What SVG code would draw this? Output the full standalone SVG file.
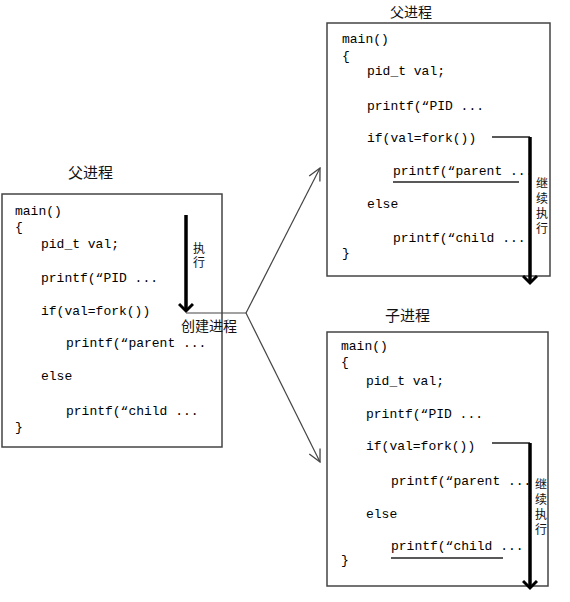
<svg xmlns="http://www.w3.org/2000/svg" width="570" height="602" viewBox="0 0 570 602">
<style>
.box{fill:#fff;stroke:#444;stroke-width:1.5}
.code{font-family:"Liberation Mono","DejaVu Sans Mono",monospace;font-size:13px;fill:#000}
.title{font-family:"Noto Sans CJK SC",sans-serif;font-size:15px;fill:#111}
.lbl{font-family:"Noto Sans CJK SC",sans-serif;font-size:12px;fill:#111;writing-mode:vertical-rl}
.thick{stroke:#000;stroke-width:3.5;fill:none}
.thin{stroke:#222;stroke-width:1.5;fill:none}
.conn{stroke:#444;stroke-width:1.2;fill:none}
.ul{stroke:#222;stroke-width:1.3}
</style>
<defs>
<marker id="bigArrow" markerWidth="12" markerHeight="16" refX="9" refY="8" orient="auto" markerUnits="userSpaceOnUse" viewBox="0 0 12 16">
<path d="M2,1 L9,8 L2,15" fill="none" stroke="#000" stroke-width="3"/>
</marker>
<marker id="open" markerWidth="14" markerHeight="14" refX="13" refY="7" orient="auto" markerUnits="userSpaceOnUse" viewBox="0 0 14 14">
<path d="M1,1 L13,7 L1,13" fill="none" stroke="#444" stroke-width="1.3"/>
</marker>
</defs>

<g id="parent-main">
<text class="title" x="68" y="178">父进程</text>
<rect class="box" x="2" y="194" width="220" height="253"/>
<text class="code" x="15" y="215">main()</text>
<text class="code" x="15" y="231">{</text>
<text class="code" x="41" y="248">pid_t val;</text>
<text class="code" x="41" y="282">printf(“PID ...</text>
<text class="code" x="41" y="315">if(val=fork())</text>
<text class="code" x="66" y="347">printf(“parent ...</text>
<text class="code" x="41" y="380">else</text>
<text class="code" x="66" y="415">printf(“child ...</text>
<text class="code" x="15" y="431">}</text>
<text class="lbl" x="199" y="242" style="letter-spacing:2px">执行</text>
</g>

<g id="parent-after">
<text class="title" x="390" y="17" style="font-size:14px">父进程</text>
<rect class="box" x="327" y="23" width="223" height="253"/>
<text class="code" x="342" y="43">main()</text>
<text class="code" x="342" y="60">{</text>
<text class="code" x="367" y="75">pid_t val;</text>
<text class="code" x="367" y="110">printf(“PID ...</text>
<text class="code" x="367" y="142">if(val=fork())</text>
<text class="code" x="393" y="175">printf(“parent ...</text>
<line class="ul" x1="393" y1="182" x2="519" y2="182"/>
<text class="code" x="367" y="208">else</text>
<text class="code" x="393" y="242">printf(“child ...</text>
<text class="code" x="342" y="257">}</text>
<text class="lbl" x="542" y="177" style="letter-spacing:3px">继续执行</text>
</g>

<g id="child">
<text class="title" x="385" y="321">子进程</text>
<rect class="box" x="327" y="332" width="221" height="254"/>
<text class="code" x="341" y="350">main()</text>
<text class="code" x="341" y="366">{</text>
<text class="code" x="366" y="385">pid_t val;</text>
<text class="code" x="366" y="418">printf(“PID ...</text>
<text class="code" x="366" y="450">if(val=fork())</text>
<text class="code" x="391" y="485">printf(“parent ...</text>
<text class="code" x="366" y="518">else</text>
<text class="code" x="391" y="550">printf(“child ...</text>
<line class="ul" x1="391" y1="558" x2="503" y2="558"/>
<text class="code" x="341" y="564">}</text>
<text class="lbl" x="541" y="478" style="letter-spacing:3px">继续执行</text>
</g>

<g id="connectors">
<line class="thick" x1="186" y1="215" x2="186" y2="311" marker-end="url(#bigArrow)"/>
<polyline class="conn" points="186,313 246,313"/>
<line class="conn" x1="246" y1="313" x2="320" y2="168" marker-end="url(#open)"/>
<line class="conn" x1="246" y1="313" x2="320" y2="462" marker-end="url(#open)"/>
<polyline class="thin" points="492,137 530,137"/>
<line class="thick" x1="530" y1="137" x2="530" y2="283" marker-end="url(#bigArrow)"/>
<polyline class="thin" points="492,443 530,443"/>
<line class="thick" x1="530" y1="443" x2="530" y2="588" marker-end="url(#bigArrow)"/>
<text class="title" x="181" y="331" style="font-size:14px">创建进程</text>
</g>
</svg>
